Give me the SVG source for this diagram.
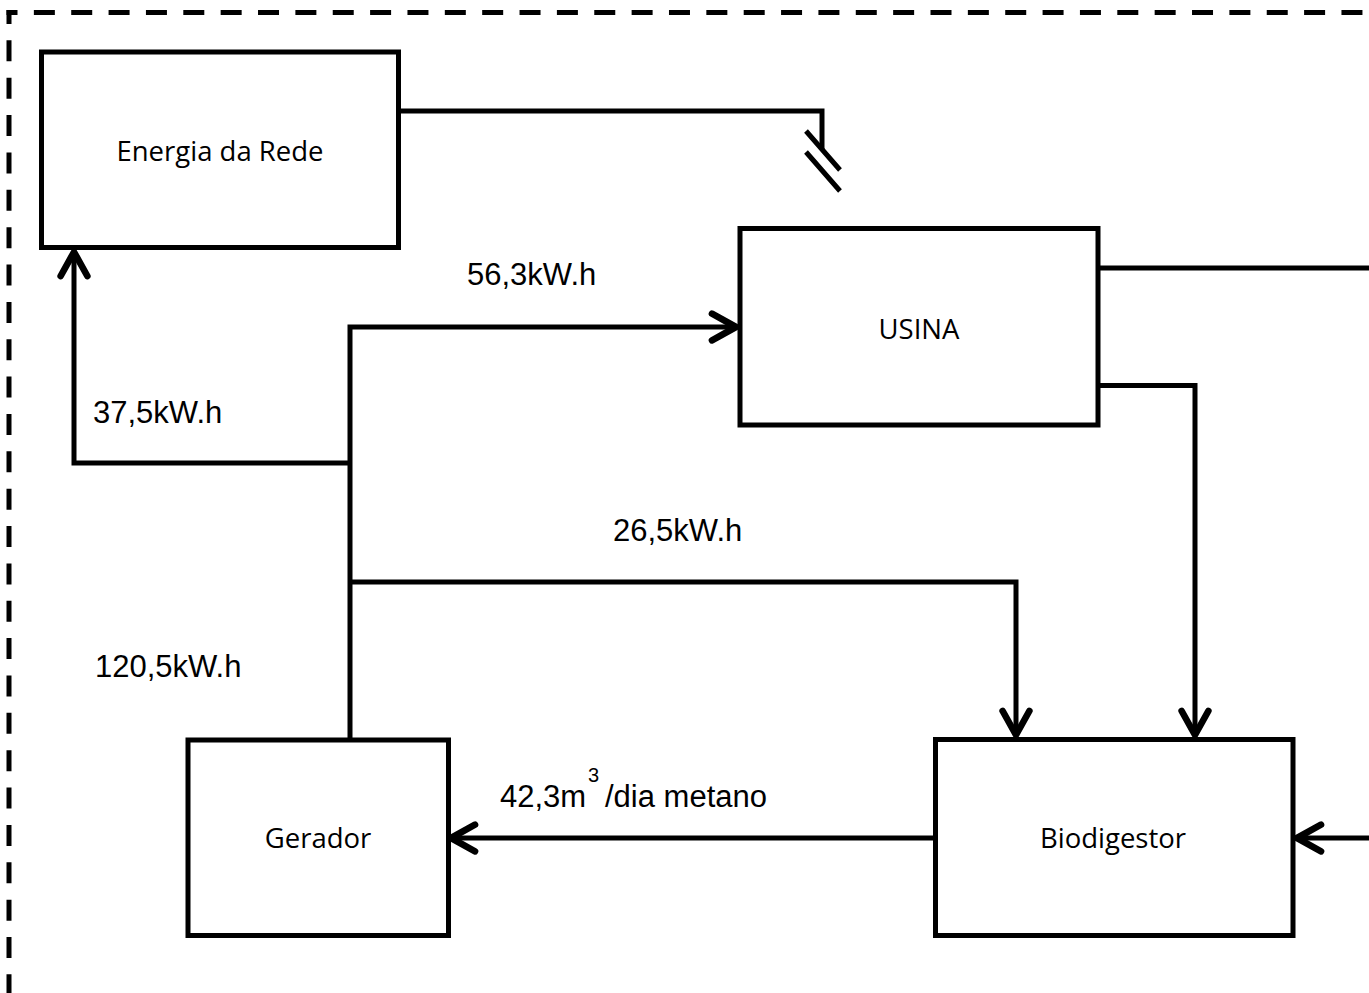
<svg xmlns="http://www.w3.org/2000/svg" width="1369" height="993" viewBox="0 0 1369 993">
<style>
.box{fill:#fff;stroke:#000;stroke-width:5}
.lbl{font-family:"Open Sans","Liberation Sans",sans-serif;font-size:27.5px;fill:#000;text-anchor:middle}
.val{font-family:"Liberation Sans",Arial,sans-serif;font-size:31px;fill:#000}
.sup{font-family:"Liberation Sans",Arial,sans-serif;font-size:20px;fill:#000}
.ln{fill:none;stroke:#000;stroke-width:5;stroke-linejoin:miter}
.arr{marker-end:url(#ah)}
.dash{fill:none;stroke:#000;stroke-width:5;stroke-dasharray:21 16.36}
</style>
<defs>
<marker id="ah" markerUnits="userSpaceOnUse" orient="auto" refX="0" refY="0" markerWidth="40" markerHeight="40" viewBox="-25 -15 30 30" overflow="visible">
<path d="M -18 -10 L 0 0 L -18 10" fill="none" stroke="#000" stroke-width="5" stroke-linecap="round" stroke-linejoin="round"/>
</marker>
</defs>
<rect width="1369" height="993" fill="#fff"/>
<g id="border">
<path class="dash" d="M 6.5 12.5 H 1400" stroke-dashoffset="10"/>
<path class="dash" d="M 9 10 V 1000" stroke-dashoffset="7"/>
</g>
<g id="connectors">
<path class="ln" d="M 398 111 H 822 V 149"/>
<path class="ln" d="M 806 131 L 840 170 M 806 152 L 840 191" stroke-width="4.5"/>
<path class="ln" d="M 1098 268 H 1372"/>
<path class="ln arr" d="M 1098 385.5 H 1195 V 735"/>
<path class="ln arr" d="M 1372 838 H 1297"/>
<path class="ln arr" d="M 935 838 H 451"/>
<path class="ln arr" d="M 350 740 V 327 H 736"/>
<path class="ln arr" d="M 350 463 H 74 V 252"/>
<path class="ln arr" d="M 350 582 H 1016 V 735"/>
</g>
<g id="energia">
<rect class="box" x="41.5" y="52" width="357" height="195.5"/>
<text class="lbl" x="220" y="161">Energia da Rede</text>
</g>
<g id="usina">
<rect class="box" x="740" y="228.5" width="358" height="196.5"/>
<text class="lbl" x="919" y="339">USINA</text>
</g>
<g id="gerador">
<rect class="box" x="188" y="740" width="260.5" height="195.5"/>
<text class="lbl" x="318" y="848">Gerador</text>
</g>
<g id="biodigestor">
<rect class="box" x="935.5" y="739.5" width="357.5" height="196"/>
<text class="lbl" x="1113" y="848">Biodigestor</text>
</g>
<g id="labels">
<text class="val" x="467" y="285">56,3kW.h</text>
<text class="val" x="93" y="423">37,5kW.h</text>
<text class="val" x="613" y="541">26,5kW.h</text>
<text class="val" x="95" y="677">120,5kW.h</text>
<text class="val" x="500" y="807">42,3m</text>
<text class="sup" x="588" y="782">3</text>
<text class="val" x="605" y="807">/dia metano</text>
</g>
</svg>
